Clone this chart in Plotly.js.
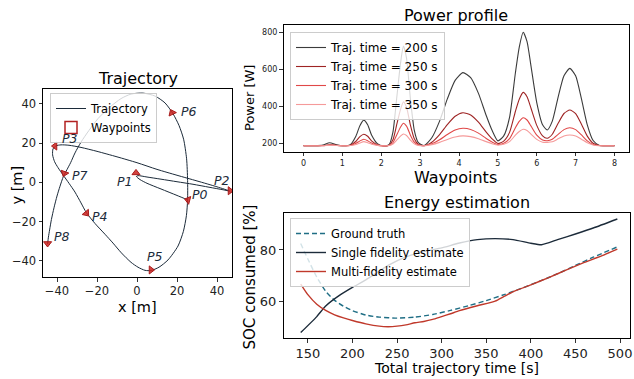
<!DOCTYPE html>
<html><head><meta charset="utf-8">
<script src="https://cdn.plot.ly/plotly-3.0.1.min.js"></script>
<style>html,body{margin:0;padding:0;background:#fff}#chart{width:634px;height:379px}</style>
</head><body><div id="chart"></div>
<script>
// ---------------- Trajectory data ----------------
const trajX = [25.5,20,12,5,1.5,-0.3,0.5,5,12,20,28,36,43,46.5,
  40,30,20,10,0,-10,-20,-28,-34,-38,-40.5,-42,-42.2,-41.2,-39.5,-37,-34,-31,-28,-25.3,-21,-16,-12,-7.8,-3,0.5,4,7,11,15.5,20.5,23.2,24.7,25.3,25.3,24.8,23.3,21,18,14,9,3,-3,-8,-14,-19.5,-24,-28,-31,-33.2,-35,-36.8,-38.5,-40,-41.5,-42.8,-43.7,-44.3,-44.7];
const trajY = [-9,-6.7,-3.4,-0.5,1.4,3.0,3.4,2.7,1.6,0.3,-1,-2.5,-3.8,-4.5,
  -2.3,0.7,3.6,6.6,10,13,15.8,17.8,18.9,19.1,18.6,17,14,10.5,7.5,3.8,-0.5,-5,-10.5,-15.5,-21,-26.5,-31,-36,-40.8,-43.3,-44.9,-45,-43.3,-39.6,-32.5,-25,-17,-9,1,12,22,29,35,40.5,44,45.5,45,42.7,38,32.5,26.5,20.5,15,10,6.5,3,-2,-7,-13,-19,-24.3,-28,-31.5];
const waypointNames = ['P0','P1','P2','P3','P4','P5','P6','P7','P8'];
const waypointX = [25.5,-0.5,46.5,-41,-25.3,7,17.5,-36.3,-44.7];
const waypointY = [-9,4.8,-4.3,18.5,-15.8,-44.7,35.5,4.6,-31.2];
const waypointHeading = [-75,0,90,-90,140,90,-25,200,180];

// ---------------- Power profile data ----------------
const powerX = [0,0.3,0.5,0.67,0.85,1.0,1.2,1.35,1.45,1.55,1.65,1.75,1.9,2.05,2.2,2.3,2.4,2.5,2.57,2.65,2.75,2.85,2.95,3.1,3.3,3.5,3.7,3.9,4.1,4.3,4.5,4.7,4.85,5.0,5.15,5.3,5.45,5.55,5.65,5.75,5.85,6.0,6.15,6.27,6.4,6.55,6.7,6.85,7.0,7.15,7.3,7.45,7.6,7.8,8.0];
const power200 = [187,187,190,203,192,187,192,240,295,325,300,245,198,186,192,260,450,640,725,660,440,270,205,188,230,320,440,540,582,555,470,350,270,213,240,340,580,720,800,750,620,420,300,272,320,450,565,605,565,440,300,215,190,187,187];
const power250 = [187,187,188,192,189,187,189,211,236,249,238,213,192,186,189,219,303,386,424,395,298,224,195,187,206,247,301,346,365,353,314,260,224,199,212,259,372,438,475,452,391,297,240,227,249,308,361,380,361,303,239,200,188,187,187];
const power300 = [187,187,187,190,188,187,188,200,213,222,214,201,190,186,188,203,246,289,308,293,244,206,191,187,197,219,248,272,281,275,255,226,207,193,200,225,284,318,338,326,294,244,218,214,222,248,274,284,274,245,213,193,188,187,187];
const power350 = [187,187,187,189,188,187,188,194,202,209,203,195,189,186,188,196,218,240,250,242,217,197,189,187,193,205,221,234,240,236,225,209,198,191,195,209,244,264,276,269,250,221,206,205,208,224,240,245,240,222,203,191,187,187,187];
const powerNames = ['Traj. time = 200 s','Traj. time = 250 s','Traj. time = 300 s','Traj. time = 350 s'];

// ---------------- Energy estimation data ----------------
const gtX = [142,150,160,170,180,190,200,215,230,250,270,290,310,330,350,370,390,410,430,450,470,497];
const gtY = [82.5,76.5,69.5,64,60.5,58.2,56.5,54.8,54,53.6,54,55,56.6,58.4,60.4,62.7,65.2,67.9,70.8,74,77.2,81.2];
const sfX = [142,160,170,185,200,215,229,240,260,280,300,320,340,360,380,400,412,430,450,470,497];
const sfY = [48,54.2,58.3,62.3,65.5,68.4,71.6,74,77.3,79.4,80.8,82.7,84,84.4,84,82.6,82,84,86.2,88.5,92];
const mfX = [142,150,160,170,180,190,200,215,230,240,250,260,270,280,290,300,310,320,340,360,370,380,400,420,440,460,480,497];
const mfY = [66.8,62.7,59,56.6,54.9,53.7,52.7,51.4,50.5,50.3,50.5,51,51.8,52.3,53.1,54.2,55.3,56.5,58.4,60.2,62,63.8,66.5,69.3,72.3,75.2,77.8,80.3];

// ---------------- Styles ----------------
const FONT = 'DejaVu Sans, sans-serif';
const powerColors = ['rgba(25,25,25,0.85)','#9e2424','#e04848','#f59a9a'];
const labelOffset = [[6,3],[-5.5,-4.5],[-3.8,5],[7.5,3.9],[6.8,-1.7],[2,6.7],[8.5,0.5],[7.8,-1.2],[7,3.5]];

const traces = [];
traces.push({type:'scatter', mode:'lines', x:trajX, y:trajY, xaxis:'x', yaxis:'y',
  line:{color:'#1c2b3a', width:1, shape:'spline', smoothing:0.7}, name:'Trajectory', legend:'legend'});
traces.push({type:'scatter', mode:'markers', x:waypointX, y:waypointY, xaxis:'x', yaxis:'y',
  marker:{symbol:'triangle-up', size:7, angle:waypointHeading, color:'rgba(205,35,30,0.85)', line:{color:'#a81c1c', width:1}},
  showlegend:false, hoverinfo:'skip'});

[power200, power250, power300, power350].forEach((s,i)=>{
  traces.push({type:'scatter', mode:'lines', x:powerX, y:s, xaxis:'x2', yaxis:'y2', name:powerNames[i], legend:'legend2',
    line:{color:powerColors[i], width:1.1, shape:'spline', smoothing:0.6}});
});

traces.push({type:'scatter', mode:'lines', x:gtX, y:gtY, xaxis:'x3', yaxis:'y3', name:'Ground truth', legend:'legend3',
  line:{color:'#1f6e85', width:1.4, dash:'5px,3px', shape:'spline', smoothing:0.5}});
traces.push({type:'scatter', mode:'lines', x:sfX, y:sfY, xaxis:'x3', yaxis:'y3', name:'Single fidelity estimate', legend:'legend3',
  line:{color:'#1c2b3a', width:1.4, shape:'spline', smoothing:0.5}});
traces.push({type:'scatter', mode:'lines', x:mfX, y:mfY, xaxis:'x3', yaxis:'y3', name:'Multi-fidelity estimate', legend:'legend3',
  line:{color:'#c0392b', width:1.4, shape:'spline', smoothing:0.5}});

function ax(extra){
  return Object.assign({showline:true, mirror:true, linecolor:'#000', linewidth:1, ticks:'outside', ticklen:3.5,
    tickwidth:0.8, tickcolor:'#000', showgrid:false, zeroline:false, fixedrange:true,
    tickfont:{family:FONT, size:11.5, color:'#222'}}, extra);
}
const W = 634, H = 379;
const px = v => v / W, py = v => 1 - v / H;

const annotations = [];
waypointNames.forEach((n,i)=>{
  annotations.push({xref:'x', yref:'y', x:waypointX[i]+labelOffset[i][0], y:waypointY[i]+labelOffset[i][1],
    text:'<i>'+n+'</i>', showarrow:false, font:{family:FONT, size:12.5, color:'#1c2b3a'}});
});
function ptxt(text, x, y, size, angle){
  annotations.push({xref:'paper', yref:'paper', x:px(x), y:py(y), xanchor:'center', yanchor:'middle',
    text:text, showarrow:false, textangle:angle||0, font:{family:FONT, size:size, color:'#000'}});
}
ptxt('Trajectory', 137.5, 78, 16);
ptxt('Power profile', 455.5, 15, 16);
ptxt('Energy estimation', 456.5, 202, 16);
ptxt('x [m]', 137.5, 307, 14.5);
ptxt('y [m]', 16.5, 185, 14.5, -90);
ptxt('Waypoints', 455.5, 177, 16);
ptxt('Power [W]', 249, 98, 13, -90);
ptxt('SOC consumed [%]', 249.5, 277, 15, -90);
ptxt('Total trajectory time [s]', 456.5, 368, 14);

const legendBase = {bgcolor:'rgba(255,255,255,0.8)', bordercolor:'#cccccc', borderwidth:1, xanchor:'left', yanchor:'top'};

// Legend-only rectangle for the waypoint patch (placed outside the visible range)
const shapes = [{type:'rect', xref:'x', yref:'y', x0:900, x1:901, y0:900, y1:901,
  line:{color:'#b22222', width:1.5}, fillcolor:'rgba(255,255,255,0)',
  showlegend:true, name:'Waypoints', legend:'legend'}];

const layout = {
  width:W, height:H, margin:{l:0,r:0,t:0,b:0}, paper_bgcolor:'#fff', plot_bgcolor:'#fff',
  font:{family:FONT, color:'#000', size:12}, showlegend:true,
  xaxis: ax({domain:[px(43), px(232)], range:[-47,47.5], dtick:20, anchor:'y'}),
  yaxis: ax({domain:[py(277), py(89)], range:[-48.3,47.6], dtick:20, anchor:'x'}),
  xaxis2: ax({domain:[px(283.5), px(628.5)], range:[-0.515,8.36], dtick:1, anchor:'y2', tickfont:{family:FONT,size:8,color:'#222'}}),
  yaxis2: ax({domain:[py(151.7), py(24.7)], range:[154.6,841], tickvals:[200,400,600,800], anchor:'x2', tickfont:{family:FONT,size:8,color:'#222'}}),
  xaxis3: ax({domain:[px(283.5), px(630)], range:[122.7,511.2], tickvals:[150,200,250,300,350,400,450,500], anchor:'y3', tickfont:{family:FONT,size:13,color:'#222'}}),
  yaxis3: ax({domain:[py(338.3), py(213.3)], range:[45.8,94.2], tickvals:[60,80], anchor:'x3', tickfont:{family:FONT,size:13,color:'#222'}}),
  legend: Object.assign({}, legendBase, {x:px(50), y:py(93), font:{family:FONT, size:11.5, color:'#000'}}),
  legend2: Object.assign({}, legendBase, {x:px(290), y:py(32), font:{family:FONT, size:12, color:'#000'}}),
  legend3: Object.assign({}, legendBase, {x:px(290), y:py(218), font:{family:FONT, size:11.5, color:'#000'}}),
  shapes: shapes,
  annotations: annotations
};
Plotly.newPlot('chart', traces, layout, {staticPlot:true, displayModeBar:false});
</script></body></html>
